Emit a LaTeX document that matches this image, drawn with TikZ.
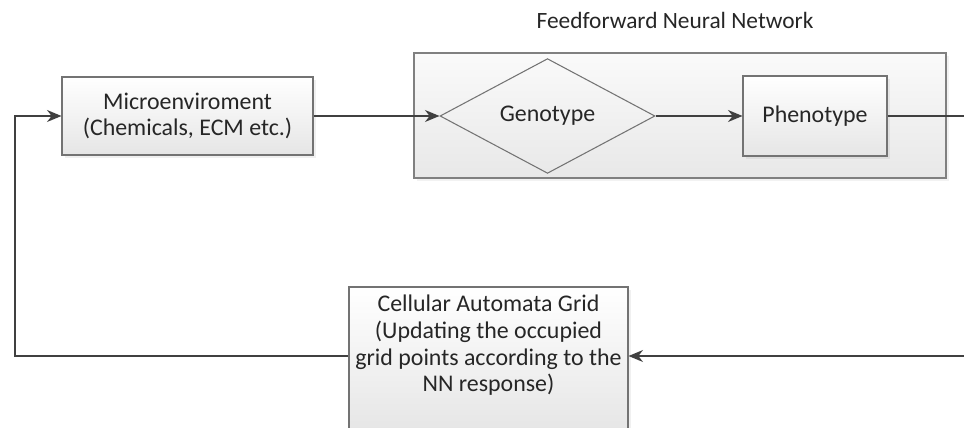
\documentclass[tikz,border=0pt]{standalone}
\usepackage{fontspec}
\setmainfont{Carlito}
\usetikzlibrary{shapes,arrows.meta,shadows,positioning}

\begin{document}
\begin{tikzpicture}[>={Stealth[length=2.9mm,width=2.4mm]}]
		\tikzstyle{Txt}		= [font=\fontsize{13.6}{15.2}\selectfont, text=black!85]
		\tikzstyle{Box} 	= [rectangle, draw=black!55, line width=0.6pt, top color=white, bottom color=black!10, drop shadow={opacity=0.12, shadow xshift=0.06cm, shadow yshift=-0.06cm}, align=center, inner sep=0pt, Txt]
		\tikzstyle{Frame}	= [rectangle, draw=black!50, line width=0.6pt, top color=black!2, bottom color=black!9, drop shadow={opacity=0.1, shadow xshift=0.06cm, shadow yshift=-0.06cm}, inner sep=0pt]
		\tikzstyle{Gene}	= [diamond, draw=black!55, line width=0.6pt, inner sep=0pt, Txt]
		\tikzstyle{Flow}	= [draw=black!75, line width=0.85pt]

		\useasboundingbox (0, 0) rectangle (19.28, 8.54);

		\node (ffnn) at (13.6, 6.23) [Frame, minimum width=10.64cm, minimum height=2.5cm]{};
		\node (title) at (13.5, 8.14) [Txt, font=\fontsize{13.3}{15}\selectfont]{Feedforward Neural Network};

		\node (micro) at (3.75, 6.22) [Box, minimum width=5.02cm, minimum height=1.56cm]{Microenviroment\\(Chemicals, ECM etc.)};
		\node (geno) at (10.95, 6.22) [Gene, minimum width=4.3cm, minimum height=1.84cm]{Genotype};
		\node (pheno) at (16.3, 6.22) [Box, minimum width=2.88cm, minimum height=1.6cm]{Phenotype};
		\node (grid) at (9.77, 1.35) [Box, minimum width=5.58cm, minimum height=2.9cm]{Cellular Automata Grid\\(Updating the occupied\\grid points according to the\\NN response)\\[3pt]};

		% loop back, partly outside the page
		\coordinate (r1) at (19.6, 6.22);
		\coordinate (r2) at (19.6, 1.42);
		\coordinate (l1) at (0.3, 1.42);
		\coordinate (l2) at (0.3, 6.22);

		\draw [->] (micro) to (geno) [Flow];
		\draw [->] (geno) to (pheno) [Flow];
		\draw [->] (pheno) -- (r1) -- (r2) -- (grid.east |- r2) [Flow];
		\draw [->] (grid.west |- l1) -- (l1) -- (l2) -- (micro) [Flow];
	\end{tikzpicture}
\end{document}
